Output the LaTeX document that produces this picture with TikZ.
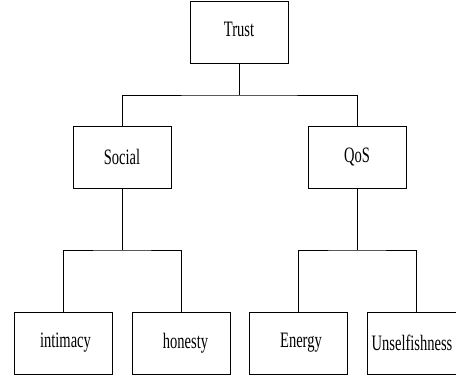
\documentclass[tikz,border=0pt]{standalone}
\usepackage{fontspec}
\setmainfont[FakeStretch=0.66]{Liberation Serif}
\usepackage{tikz}
\usetikzlibrary{positioning,calc}
\tikzset{
  box/.style={draw,line width=0.9pt,minimum width=98pt,minimum height=62pt,inner sep=0pt,font=\fontsize{22}{26}\selectfont},
  link/.style={line width=0.7pt}
}
\begin{document}
\begin{tikzpicture}[x=1pt,y=-1pt]
  \useasboundingbox (0,0) rectangle (456,378);
  % nodes
  \node[box] (trust) at (239,32.5) {\raisebox{6pt}{Trust}};
  \node[box] (social) at (122,157) {Social};
  \node[box] (qos) at (357,157) {QoS};
  \node[box] (intimacy) at (63,343) {\hspace{5pt}intimacy};
  \node[box] (honesty) at (181,343) {\hspace{9pt}honesty};
  \node[box] (energy) at (298.5,343) {\hspace{5pt}Energy};
  \node[box] (unself) at (416,343) {\hspace{-8pt}Unselfishness};
  % junctions
  \coordinate (tj) at (239,95);
  \coordinate (sj) at (122,250);
  \coordinate (qj) at (357,250);
  % links
  \draw[link] (trust) -- (tj);
  \draw[link] (social.north) |- (tj) -| (qos.north);
  \draw[link] (social) -- (sj);
  \draw[link] (intimacy.north) |- (sj) -| (honesty.north);
  \draw[link] (qos) -- (qj);
  \draw[link] (energy.north) |- (qj) -| (unself.north);
\end{tikzpicture}
\end{document}
